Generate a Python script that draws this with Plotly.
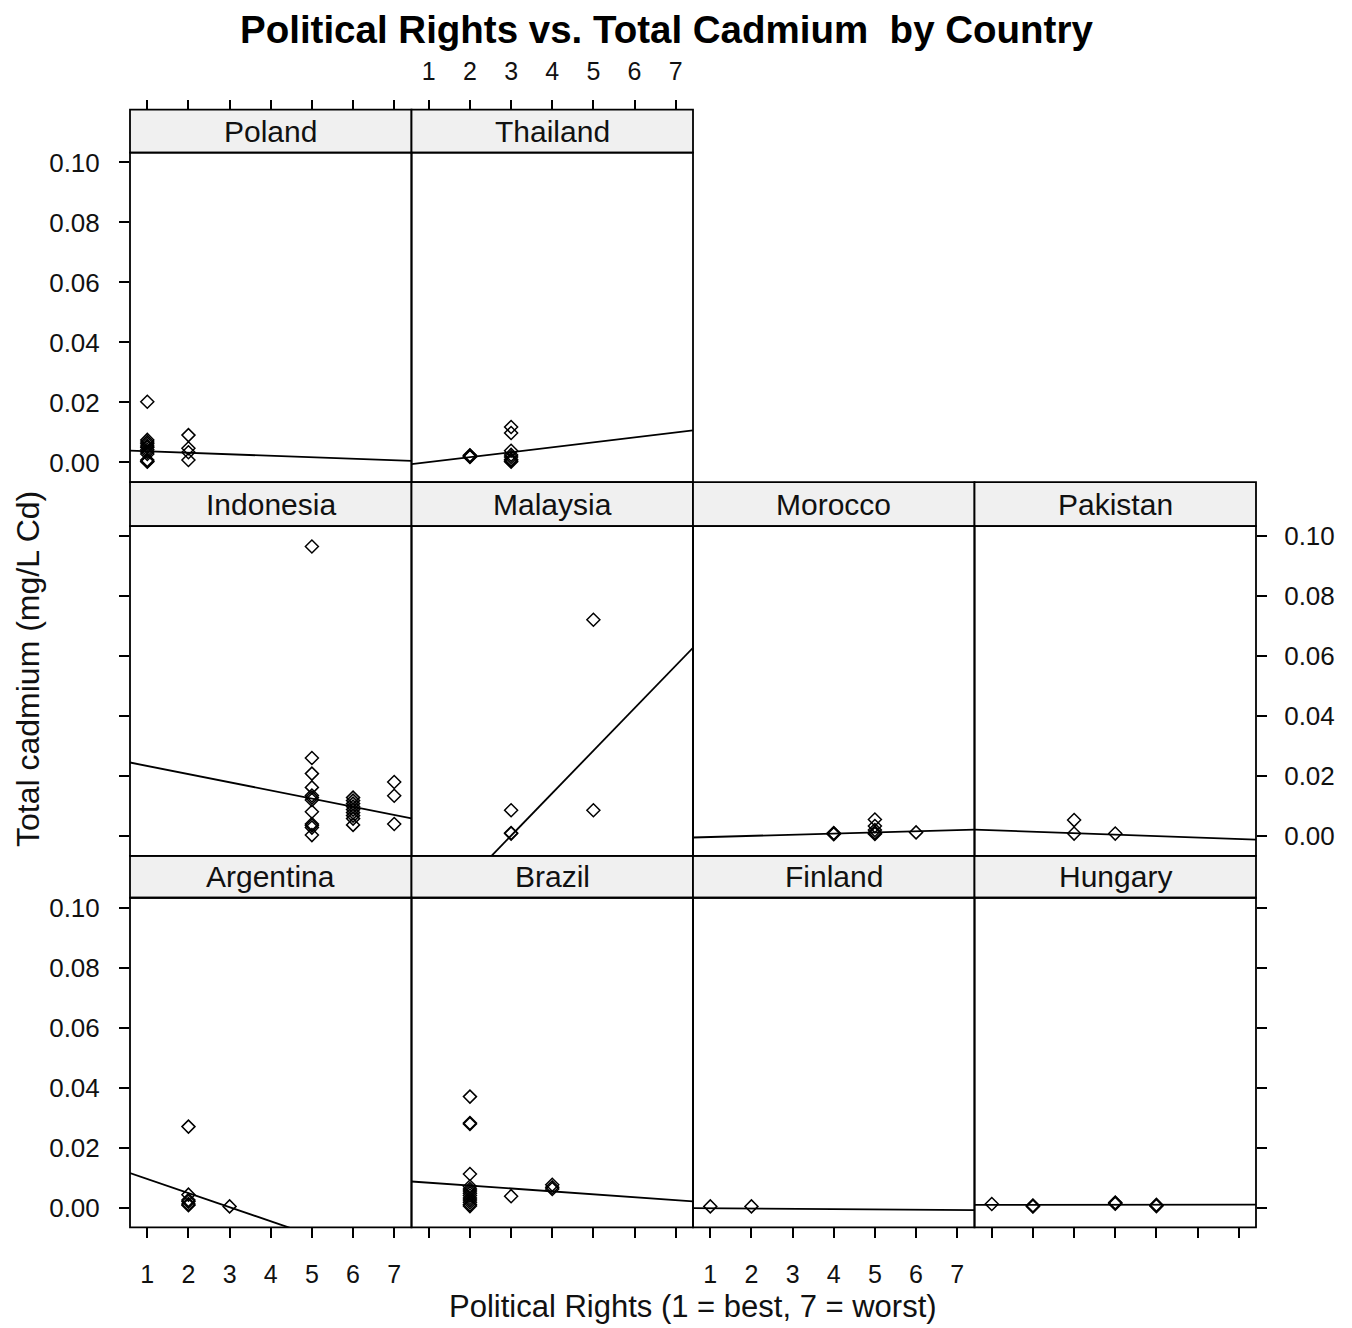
import plotly.graph_objects as go

# ---------------- data ----------------
countries = ["Argentina", "Brazil", "Finland", "Hungary",
             "Indonesia", "Malaysia", "Morocco", "Pakistan",
             "Poland", "Thailand"]

argentina_x = [2, 2, 2, 2, 2, 2, 3]
argentina_y = [0.0270, 0.0043, 0.0025, 0.0020, 0.0012, 0.0008, 0.0004]

brazil_x = [2] * 14 + [3] + [4, 4, 4]
brazil_y = [0.0370, 0.0282, 0.0279, 0.0112, 0.0070, 0.0062, 0.0055, 0.0048,
            0.0040, 0.0032, 0.0025, 0.0018, 0.0010, 0.0005,
            0.0038,
            0.0076, 0.0068, 0.0062]

finland_x = [1, 2]
finland_y = [0.0004, 0.0004]

hungary_x = [1, 2, 2, 2, 4, 4, 4, 5, 5, 5]
hungary_y = [0.0012, 0.0007, 0.0005, 0.0004, 0.0017, 0.0015, 0.0013,
             0.0009, 0.0007, 0.0005]

indonesia_x = [5] * 12 + [6] * 9 + [7] * 3
indonesia_y = [0.0965, 0.0260, 0.0208, 0.0162, 0.0135, 0.0128, 0.0120, 0.0081,
               0.0040, 0.0035, 0.0028, 0.0003,
               0.0128, 0.0118, 0.0108, 0.0098, 0.0088, 0.0078, 0.0068, 0.0058,
               0.0037,
               0.0180, 0.0134, 0.0040]

malaysia_x = [3, 3, 3, 5, 5]
malaysia_y = [0.0086, 0.0010, 0.0008, 0.0721, 0.0086]

morocco_x = [4, 4, 4, 5, 5, 5, 5, 5, 5, 6]
morocco_y = [0.0010, 0.0008, 0.0006, 0.0055, 0.0033, 0.0020, 0.0012, 0.0009,
             0.0007, 0.0012]

pakistan_x = [3, 3, 4]
pakistan_y = [0.0053, 0.0008, 0.0008]

poland_x = [1] * 12 + [2] * 4
poland_y = [0.0202, 0.0075, 0.0068, 0.0062, 0.0055, 0.0050, 0.0042, 0.0035,
            0.0028, 0.0008, 0.0004, 0.0002,
            0.0091, 0.0047, 0.0034, 0.0008]

thailand_x = [2, 2, 2, 2] + [3] * 8
thailand_y = [0.0024, 0.0022, 0.0020, 0.0018,
              0.0118, 0.0098, 0.0039, 0.0025, 0.0018, 0.0010, 0.0005, 0.0002]

# fitted line per panel (intercept, slope)
line_intercept = [0.01423, 0.00926, -0.00015, 0.0009,
                  0.02608, -0.0424, -0.00072, 0.00238,
                  0.00419, -0.00156]
line_slope = [-0.0047, -0.000965, -0.00009, 0.00001,
              -0.00272, 0.01417, 0.00038, -0.00048,
              -0.000497, 0.00165]

x_ticks = [1, 2, 3, 4, 5, 6, 7]
y_ticks = [0.00, 0.02, 0.04, 0.06, 0.08, 0.10]
y_tick_labels = ["0.00", "0.02", "0.04", "0.06", "0.08", "0.10"]

title_text = "Political Rights vs. Total Cadmium \u00a0by Country"
x_title = "Political Rights (1 = best, 7 = worst)"
y_title = "Total cadmium (mg/L Cd)"

# ---------------- layout geometry ----------------
W, H = 1352, 1328
X_RANGE = [0.58, 7.42]
Y_RANGE = [-0.0066, 0.1033]
col_edges = [130, 411.5, 693, 974.5, 1256]
strip_top = [855, 481, 108]      # row 0 = bottom row
panel_top = [897, 525, 151]
panel_bot = [1227, 855, 481]

FONT = "Liberation Sans, Arial, sans-serif"
STRIP_FILL = "#F0F0F0"
INK = "#111111"


def fx(p):
    return p / W


def fy(p):
    # small correction so that rows line up with the reference
    p = p - 3.0 * (1227 - p) / 1120 if p < 1227 else p
    return 1 - p / H


series = [
    (argentina_x, argentina_y), (brazil_x, brazil_y),
    (finland_x, finland_y), (hungary_x, hungary_y),
    (indonesia_x, indonesia_y), (malaysia_x, malaysia_y),
    (morocco_x, morocco_y), (pakistan_x, pakistan_y),
    (poland_x, poland_y), (thailand_x, thailand_y),
]

# which sides carry ticks: (x side, x labels, y side, y labels)
axis_spec = {
    0: ("bottom", True, "left", True),      # Argentina
    1: ("bottom", False, None, False),      # Brazil
    2: ("bottom", True, None, False),       # Finland
    3: ("bottom", False, "right", False),   # Hungary
    4: (None, False, "left", False),        # Indonesia
    5: (None, False, None, False),          # Malaysia
    6: (None, False, None, False),          # Morocco
    7: (None, False, "right", True),        # Pakistan
    8: ("top", False, "left", True),        # Poland
    9: ("top", True, None, False),          # Thailand
}

fig = go.Figure()
shapes = []
annotations = []
layout_axes = {}

for i, name in enumerate(countries):
    row, col = divmod(i, 4)
    xs, ys = series[i]
    n = i + 1
    xa = "x" if n == 1 else f"x{n}"
    ya = "y" if n == 1 else f"y{n}"
    xkey = "xaxis" if n == 1 else f"xaxis{n}"
    ykey = "yaxis" if n == 1 else f"yaxis{n}"

    x0p, x1p = col_edges[col], col_edges[col + 1]
    ytp, ybp = panel_top[row], panel_bot[row]
    stp = strip_top[row]

    # regression line across the full panel
    lx = [X_RANGE[0], X_RANGE[1]]
    ly = [line_intercept[i] + line_slope[i] * v for v in lx]
    fig.add_trace(go.Scatter(x=lx, y=ly, mode="lines", xaxis=xa, yaxis=ya,
                             line=dict(color="black", width=1.8),
                             showlegend=False, hoverinfo="skip"))
    fig.add_trace(go.Scatter(x=xs, y=ys, mode="markers", xaxis=xa, yaxis=ya,
                             marker=dict(symbol="diamond-open", size=10,
                                         color="black",
                                         line=dict(color="black", width=1.5)),
                             showlegend=False, name=name))

    xside, xlab, yside, ylab = axis_spec[i]
    xdict = dict(domain=[fx(x0p), fx(x1p)], range=X_RANGE, showgrid=False,
                 zeroline=False, showline=False, fixedrange=True,
                 tickvals=x_ticks, ticktext=[str(v) for v in x_ticks],
                 tickfont=dict(family=FONT, size=25, color=INK),
                 tickcolor="black", tickwidth=1.6, ticklen=10)
    if xside is None:
        xdict.update(ticks="", showticklabels=False, anchor=ya)
    elif xside == "bottom":
        xdict.update(ticks="outside", showticklabels=xlab, side="bottom",
                     anchor=ya, ticklabelstandoff=15)
    else:
        xdict.update(ticks="outside", showticklabels=xlab, side="top",
                     anchor="free", position=fy(stp), ticklabelstandoff=10)
    ydict = dict(domain=[fy(ybp), fy(ytp)], range=Y_RANGE, showgrid=False,
                 zeroline=False, showline=False, fixedrange=True, anchor=xa,
                 tickvals=y_ticks, ticktext=y_tick_labels,
                 tickfont=dict(family=FONT, size=26, color=INK),
                 tickcolor="black", tickwidth=1.6, ticklen=10)
    if yside is None:
        ydict.update(ticks="", showticklabels=False)
    else:
        ydict.update(ticks="outside", showticklabels=ylab, side=yside,
                     ticklabelstandoff=14 if yside == "left" else 12)
    layout_axes[xkey] = xdict
    layout_axes[ykey] = ydict

    # strip
    shapes.append(dict(type="rect", xref="paper", yref="paper",
                       x0=fx(x0p), x1=fx(x1p), y0=fy(ytp), y1=fy(stp),
                       fillcolor=STRIP_FILL, line=dict(color="black", width=1.8),
                       layer="below"))
    # panel frame
    shapes.append(dict(type="rect", xref="paper", yref="paper",
                       x0=fx(x0p), x1=fx(x1p), y0=fy(ybp), y1=fy(ytp),
                       fillcolor="rgba(0,0,0,0)",
                       line=dict(color="black", width=1.8), layer="above"))
    annotations.append(dict(text=name, xref="paper", yref="paper",
                            x=fx((x0p + x1p) / 2), y=fy((stp + ytp) / 2),
                            xanchor="center", yanchor="middle", showarrow=False,
                            font=dict(family=FONT, size=30, color=INK)))

annotations.append(dict(text="<b>" + title_text + "</b>", xref="paper",
                        yref="paper", x=fx(666), y=fy(28), xanchor="center",
                        yanchor="middle", showarrow=False,
                        font=dict(family=FONT, size=38.5, color="black")))
annotations.append(dict(text=x_title, xref="paper", yref="paper",
                        x=fx(693), y=1 - 1306 / H, xanchor="center",
                        yanchor="middle", showarrow=False,
                        font=dict(family=FONT, size=31, color=INK)))
annotations.append(dict(text=y_title, xref="paper", yref="paper",
                        x=fx(28), y=fy(668), xanchor="center",
                        yanchor="middle", showarrow=False, textangle=-90,
                        font=dict(family=FONT, size=32, color=INK)))

fig.update_layout(width=W, height=H, margin=dict(l=0, r=0, t=0, b=0),
                  paper_bgcolor="white", plot_bgcolor="white",
                  shapes=shapes, annotations=annotations, showlegend=False,
                  **layout_axes)

fig.write_html("out.html",
               config={"displayModeBar": False},
               post_script="document.body.style.margin='0';"
                           "document.body.style.padding='0';")
